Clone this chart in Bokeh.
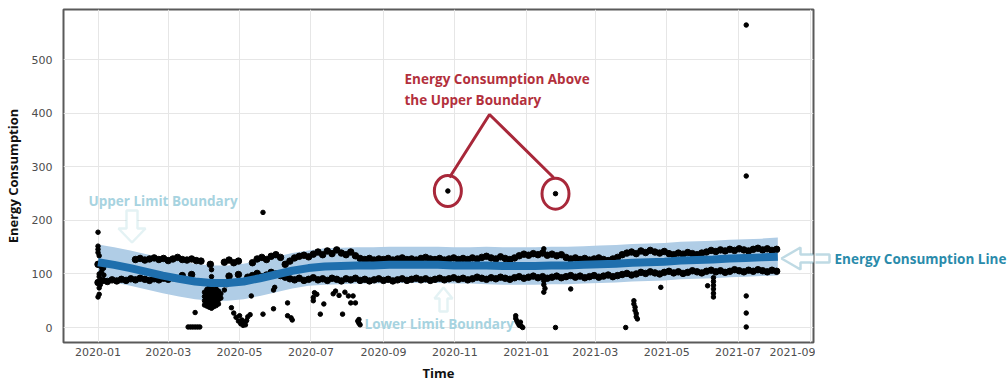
import pandas as pd
from bokeh.plotting import figure
from bokeh.layouts import row
from bokeh.models import Range1d, FixedTicker, DatetimeTickFormatter, Label, PolyAnnotation
from bokeh.embed import file_html
from bokeh.resources import INLINE

nan = float("nan")

# ---------------- data ----------------
x_tick_labels = ["2020-01-01", "2020-03-01", "2020-05-01", "2020-07-01", "2020-09-01", "2020-11-01",
                 "2021-01-01", "2021-03-01", "2021-05-01", "2021-07-01", "2021-09-01"]
y_tick_values = [0, 100, 200, 300, 400, 500]

# forecast (yhat) and its uncertainty interval
fc_dates = pd.date_range("2020-01-01", "2021-08-04", periods=43)
yhat = [122, 117, 111, 104, 97, 91, 86, 83, 83, 86, 92, 99, 106, 111, 114, 115, 116, 116, 117, 117, 117,
        117, 116, 116, 116, 115, 115, 115, 116, 116, 117, 118, 119, 121, 122, 123, 125, 126, 127, 129,
        130, 131, 132]
yhat_upper = [155, 150, 144, 137, 130, 124, 119, 116, 116, 119, 125, 132, 139, 144, 148, 149, 150, 150,
              151, 151, 151, 151, 150, 150, 151, 150, 150, 150, 151, 151, 152, 153, 154, 156, 157, 158,
              160, 161, 162, 164, 165, 166, 168]
yhat_lower = [89, 84, 78, 71, 64, 58, 53, 50, 50, 53, 59, 66, 73, 78, 80, 81, 82, 82, 83, 83, 83, 83, 82,
              82, 81, 80, 80, 80, 81, 81, 82, 83, 84, 86, 87, 88, 90, 91, 92, 94, 95, 96, 97]

# observed energy consumption: two dense regimes (every 4 days)
obs_dates = pd.date_range("2020-01-01", periods=146, freq="4D")
obs_high = [118, 112, nan, nan, nan, nan, nan, nan, 127, 129, 126, 128, 130, 127, 129, 125, 128, 131,
            127, 126, 128, 125, 124, nan, 118, nan, nan, 122, 126, 121, 124, nan, nan, 121, 128, 131,
            127, 133, 136, 131, 118, 124, 130, 133, 135, 132, 137, 141, 136, 143, 138, 145, 139, 136,
            141, 134, 129, 127, 129, 126, 128, 127, 129, 126, 128, 130, 127, 128, 126, 129, 131, 128,
            127, 129, 126, 128, 130, 127, 129, 127, 130, 128, 131, 133, 130, 128, 132, 129, 127, 130,
            134, 137, 135, 138, 136, 139, 135, 137, 134, 136, 131, 128, 130, 127, 129, 126, 128, 130,
            127, 125, 128, 131, 136, 139, 141, 138, 143, 140, 144, 141, 139, 142, 138, 136, 139, 137,
            140, 138, 136, 139, 141, 144, 142, 145, 143, 146, 144, 147, 145, 143, 146, 148, 145, 147,
            144, 146]
obs_low = [84, 88, 86, 89, 87, 90, 88, 91, 89, 92, 90, 88, 91, 89, 92, 90, 93, nan, 97, nan, 99, nan,
           nan, nan, nan, nan, nan, nan, 96, nan, 99, nan, 94, 97, 101, 95, 98, 103, 100, 97, 94, 91,
           89, 92, 88, 90, 93, 89, 91, 88, 92, 90, 87, 91, 89, 92, 88, 90, 87, 89, 91, 88, 90, 87, 89,
           91, 88, 90, 92, 89, 91, 88, 90, 92, 89, 91, 93, 90, 92, 89, 91, 94, 92, 90, 93, 91, 94, 92,
           90, 93, 95, 92, 94, 96, 93, 95, 92, 94, 96, 93, 95, 97, 94, 96, 93, 95, 97, 94, 96, 98, 95,
           97, 99, 101, 98, 100, 103, 101, 104, 102, 100, 103, 105, 102, 104, 101, 103, 106, 104, 102,
           105, 107, 104, 106, 103, 105, 108, 106, 104, 107, 105, 108, 106, 104, 107, 105]

# scattered observations
scatter_dates = (
    ["2020-01-01"] * 4 + ["2020-01-02"] * 5 + ["2020-01-03", "2020-01-01", "2020-01-04", "2020-01-06"]
    + ["2020-03-24"] + ["2020-03-18", "2020-03-20", "2020-03-22", "2020-03-24", "2020-03-26", "2020-03-28"]
    + ["2020-04-01"] * 4 + ["2020-04-03"] * 5 + ["2020-04-05"] * 6 + ["2020-04-07"] * 9
    + ["2020-04-09"] * 5 + ["2020-04-11"] * 5 + ["2020-04-13"] * 4 + ["2020-04-15"] * 2
    + ["2020-04-18", "2020-04-20", "2020-04-24", "2020-04-26", "2020-04-28", "2020-04-30", "2020-05-01",
       "2020-05-02", "2020-05-03", "2020-05-04", "2020-05-05", "2020-05-06", "2020-05-07", "2020-05-08",
       "2020-05-10", "2020-05-11", "2020-05-21", "2020-05-21", "2020-05-30", "2020-05-30", "2020-05-31",
       "2020-06-11", "2020-06-11", "2020-06-14", "2020-06-15"]
    + ["2020-07-03", "2020-07-03", "2020-07-04", "2020-07-06", "2020-07-09", "2020-07-12", "2020-07-20",
       "2020-07-22", "2020-07-25", "2020-07-28", "2020-07-30", "2020-08-02", "2020-08-04", "2020-08-06",
       "2020-08-08", "2020-08-10", "2020-08-11", "2020-08-12", "2020-08-11"]
    + ["2020-10-26"]
    + ["2020-12-23", "2020-12-24", "2020-12-25", "2020-12-26", "2020-12-27", "2020-12-28", "2020-12-29",
       "2020-12-23"]
    + ["2021-01-16", "2021-01-16", "2021-01-16", "2021-01-17", "2021-01-16", "2021-01-26", "2021-01-26",
       "2021-02-08"]
    + ["2021-03-27", "2021-04-03", "2021-04-03", "2021-04-04", "2021-04-04", "2021-04-05", "2021-04-05",
       "2021-04-06", "2021-04-26"]
    + ["2021-06-05"] + ["2021-06-10"] * 6
    + ["2021-07-08"] * 5
)
scatter_values = (
    [178, 152, 146, 140] + [134, 100, 95, 74, 62] + [80, 57, 104, 98]
    + [28] + [1, 1, 1, 1, 1, 1]
    + [42, 50, 58, 66] + [40, 47, 55, 63, 71] + [38, 45, 52, 60, 68, 75]
    + [36, 44, 51, 59, 67, 74, 82, 95, 108]
    + [39, 46, 54, 62, 70] + [41, 49, 57, 65, 72] + [44, 52, 60, 68] + [55, 63]
    + [70, 80, 37, 27, 19, 12, 22, 7, 14, 4, 9, 5, 13, 20, 24, 59, 215, 25, 35, 70, 75, 22, 46, 18, 14]
    + [50, 56, 65, 62, 25, 44, 63, 68, 60, 25, 66, 59, 46, 59, 46, 12, 8, 5, 15]
    + [255]
    + [17, 12, 8, 4, 10, 2, 0, 22]
    + [147, 87, 80, 73, 66, 250, 0, 72]
    + [0, 50, 44, 38, 32, 26, 20, 16, 75]
    + [78] + [93, 86, 79, 72, 64, 57]
    + [565, 283, 59, 27, 1]
)
scatter_dates = pd.to_datetime(scatter_dates)

# the two points circled as above the upper boundary
circled = [(d, v) for d, v in zip(scatter_dates, scatter_values) if 240 <= v <= 260]
circled_dates = [d for d, v in circled]
circled_values = [v for d, v in circled]

# ---------------- geometry ----------------
X0 = pd.Timestamp("2019-12-02 12:00")
X1 = pd.Timestamp("2021-09-03 12:00")
Y0, Y1 = -28, 594
FL, FR, FT, FB = 63, 813, 9, 342   # frame edges in screenshot pixels
EPOCH = pd.Timestamp("1970-01-01")


def ms(ts):
    return (ts - EPOCH) / pd.Timedelta(milliseconds=1)


X0ms, X1ms = ms(X0), ms(X1)


def dx(px):
    return X0ms + (px - FL) * (X1ms - X0ms) / (FR - FL)


def dy(py):
    return Y1 - (py - FT) * (Y1 - Y0) / (FB - FT)


p = figure(frame_width=750, frame_height=333, x_axis_type="datetime",
           x_range=Range1d(X0ms, X1ms), y_range=Range1d(Y0, Y1),
           output_backend="svg", toolbar_location=None,
           min_border_left=55, min_border_right=2, min_border_top=9, min_border_bottom=42)

p.outline_line_color = "#5a5a5a"
p.outline_line_width = 2
p.background_fill_color = "white"
p.border_fill_color = "white"

xt = FixedTicker(ticks=[ms(pd.Timestamp(t)) for t in x_tick_labels])
p.xaxis.ticker = xt
p.xgrid.ticker = xt
p.yaxis.ticker = FixedTicker(ticks=y_tick_values)
p.xaxis.formatter = DatetimeTickFormatter(months="%Y-%m", days="%Y-%m", years="%Y-%m")
p.grid.grid_line_color = "#e6e6e6"
p.grid.grid_line_width = 1

for ax in (p.xaxis, p.yaxis):
    ax.axis_line_color = None
    ax.major_tick_line_color = None
    ax.minor_tick_line_color = None
    ax.major_tick_out = 0
    ax.major_tick_in = 0
    ax.minor_tick_out = 0
    ax.major_label_text_font = "DejaVu Sans"
    ax.major_label_text_font_size = "11px"
    ax.major_label_text_color = "#4d4d4d"
    ax.axis_label_text_font = "Open Sans"
    ax.axis_label_text_font_style = "bold"
    ax.axis_label_text_font_size = "13px"
    ax.axis_label_text_color = "#111111"

p.xaxis.axis_label = "Time"
p.yaxis.axis_label = "Energy Consumption"
p.xaxis.major_label_standoff = 5
p.yaxis.major_label_standoff = 11
p.xaxis.axis_label_standoff = 5
p.yaxis.axis_label_standoff = 7

# uncertainty band, observations, forecast
p.varea(x=fc_dates, y1=yhat_lower, y2=yhat_upper, fill_color="#b0cde6", fill_alpha=1)
p.scatter(x=obs_dates, y=obs_high, size=6.5, color="black")
p.scatter(x=obs_dates, y=obs_low, size=6.5, color="black")
p.scatter(x=scatter_dates, y=scatter_values, size=4.5, color="black")
p.line(x=fc_dates, y=yhat, line_color="#1f6fad", line_width=8)

# red annotation
red = "#a8283a"
p.ellipse(x=circled_dates, y=circled_values, width=27, height=31, width_units="screen",
          height_units="screen", fill_color=None, line_color=red, line_width=3)
p.line(x=[dx(449), dx(489), dx(553)], y=[dy(177), dy(114), dy(177)], line_color=red, line_width=3)

light = "#a6d5da"
teal = "#2c86a6"
down_arrow = [(126, 210), (137, 210), (137, 228), (145, 228), (131.5, 242), (118, 228), (126, 228)]
up_arrow = [(443, 287), (452, 298), (447, 298), (447, 311), (439, 311), (439, 298), (434, 298)]
left_arrow = [(781, 258), (800, 247), (800, 254), (829, 254), (829, 262), (800, 262), (800, 269)]


def poly(points, color, fx, fy):
    return PolyAnnotation(xs=[fx(a) for a, b in points], ys=[fy(b) for a, b in points],
                          fill_color="white", fill_alpha=1, line_color=color, line_width=2.5)


p.add_layout(poly(down_arrow, light, dx, dy))
p.add_layout(poly(up_arrow, light, dx, dy))
p.add_layout(poly(left_arrow, teal, dx, dy))


def label(fig, x, y, text, color):
    fig.add_layout(Label(x=x, y=y, text=text, text_color=color, text_font="Open Sans",
                         text_font_style="bold", text_font_size="13.5px", text_baseline="middle",
                         text_align="left"))


label(p, dx(88), dy(200), "Upper Limit Boundary", "#a7d3e0")
label(p, dx(364), dy(323), "Lower Limit Boundary", "#a7d3e0")
label(p, dx(404), dy(78), "Energy Consumption Above", "#b3303c")
label(p, dx(404), dy(99), "the Upper Boundary", "#b3303c")

# right-hand strip (outside the plot frame); its frame is aligned with the main frame,
# so its ranges are simply screenshot pixels
p2 = figure(frame_width=193, frame_height=333, x_range=Range1d(815, 1008), y_range=Range1d(FB, FT),
            output_backend="svg", toolbar_location=None, x_axis_location=None, y_axis_location=None,
            min_border_left=0, min_border_right=0, min_border_top=9, min_border_bottom=42)
p2.grid.visible = False
p2.outline_line_color = None
p2.background_fill_color = "white"
p2.border_fill_color = "white"
p2.add_layout(poly(left_arrow, teal, lambda v: v, lambda v: v))
label(p2, 834, 258, "Energy Consumption Line", "#2a8bab")

layout = row(p, p2)
open("out.html", "w").write(file_html(layout, INLINE))
